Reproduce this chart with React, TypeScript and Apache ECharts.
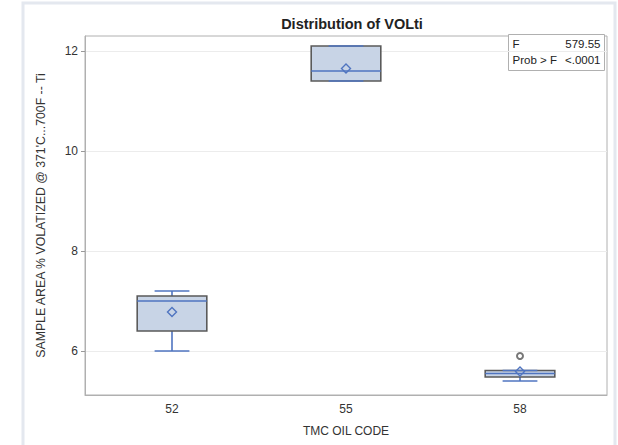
import React, { useEffect, useRef } from "react";
import * as echarts from "echarts";

const categories = ["52", "55", "58"];
const whiskerLow = [6.0, 11.4, 5.4];
const q1 = [6.4, 11.4, 5.48];
const median = [7.0, 11.6, 5.55];
const q3 = [7.1, 12.1, 5.61];
const whiskerHigh = [7.2, 12.1, 5.61];
const means = [6.78, 11.65, 5.59];
const outliers: [string, number][] = [["58", 5.9]];
const yTicks = [6, 8, 10, 12];
const statLabels = ["F", "Prob > F"];
const statValues = ["579.55", "<.0001"];

const FONT = "'Liberation Sans', Arial, sans-serif";
const BLUE = "#4f74c0";
const FILL = "#c8d4e6";
const BORDER = "#5a5a5a";

export default function App() {
  const ref = useRef<HTMLDivElement>(null);
  useEffect(() => {
    const chart = echarts.init(ref.current!, null, { renderer: "svg" });
    const boxData = categories.map((_, i) => [
      i,
      whiskerLow[i],
      q1[i],
      median[i],
      q3[i],
      whiskerHigh[i],
      means[i],
    ]);
    chart.setOption({
      animation: false,
      backgroundColor: "#ffffff",
      textStyle: { fontFamily: FONT },
      title: {
        text: "Distribution of VOLti",
        left: 347,
        textAlign: "center",
        top: 11,
        textStyle: { fontFamily: FONT, fontSize: 14.5, fontWeight: "bold", color: "#222" },
      },
      grid: { left: 85, right: 11, top: 36, bottom: 50, show: true, borderColor: "#b0b0b0", borderWidth: 1 },
      xAxis: {
        type: "category",
        data: categories,
        boundaryGap: true,
        name: "TMC OIL CODE",
        nameLocation: "middle",
        nameGap: 30,
        nameTextStyle: { fontFamily: FONT, fontSize: 12, color: "#333" },
        axisLine: { lineStyle: { color: "#b0b0b0" } },
        axisTick: { alignWithLabel: true, length: 4, lineStyle: { color: "#999" } },
        axisLabel: { fontFamily: FONT, fontSize: 12, color: "#333", margin: 8 },
      },
      yAxis: {
        type: "value",
        min: 5.12,
        max: 12.3,
        name: "SAMPLE AREA % VOLATIZED @ 371'C...700F -- Ti",
        nameLocation: "middle",
        nameGap: 38,
        nameTextStyle: { fontFamily: FONT, fontSize: 12.3, color: "#333" },
        axisLine: { show: true, lineStyle: { color: "#b0b0b0" } },
        axisTick: { show: true, length: 4, customValues: yTicks, lineStyle: { color: "#999" } },
        axisLabel: { fontFamily: FONT, fontSize: 12, color: "#333", margin: 7, customValues: yTicks },
        splitLine: { show: true, customValues: yTicks, lineStyle: { color: "#ececec" } },
      },
      graphic: [
        {
          type: "rect",
          shape: { x: 23, y: 3, width: 592, height: 460 },
          style: { fill: "none", stroke: "#e4e8ef", lineWidth: 3 },
          silent: true,
        },
        {
          type: "group",
          left: 508,
          top: 34,
          children: [
            {
              type: "rect",
              shape: { x: 0, y: 0, width: 96, height: 36 },
              style: { fill: "#fff", stroke: "#b0b0b0", lineWidth: 1 },
            },
            ...statLabels.map((t, i) => ({
              type: "text",
              x: 4,
              y: 3 + i * 16,
              style: { text: t, fontFamily: FONT, fontSize: 11.5, fill: "#222" },
            })),
            ...statValues.map((t, i) => ({
              type: "text",
              x: 92,
              y: 3 + i * 16,
              style: { text: t, fontFamily: FONT, fontSize: 11.5, fill: "#222", textAlign: "right" },
            })),
          ],
        },
      ],
      series: [
        {
          type: "custom",
          data: boxData,
          encode: { x: 0, y: [1, 2, 3, 4, 5, 6] },
          z: 3,
          renderItem: (params: any, api: any) => {
            const x = api.value(0);
            const band = api.size([1, 0])[0];
            const boxW = band * 0.4;
            const capW = band * 0.2;
            const pLow = api.coord([x, api.value(1)]);
            const pQ1 = api.coord([x, api.value(2)]);
            const pMed = api.coord([x, api.value(3)]);
            const pQ3 = api.coord([x, api.value(4)]);
            const pHigh = api.coord([x, api.value(5)]);
            const pMean = api.coord([x, api.value(6)]);
            const cx = pMed[0];
            const d = 4.5;
            const lineStyle = { stroke: BLUE, lineWidth: 1.6 };
            return {
              type: "group",
              children: [
                { type: "line", shape: { x1: cx, y1: pLow[1], x2: cx, y2: pQ1[1] }, style: lineStyle },
                { type: "line", shape: { x1: cx, y1: pQ3[1], x2: cx, y2: pHigh[1] }, style: lineStyle },
                {
                  type: "rect",
                  shape: { x: cx - boxW / 2, y: pQ3[1], width: boxW, height: pQ1[1] - pQ3[1] },
                  style: { fill: FILL, stroke: BORDER, lineWidth: 1.6 },
                },
                { type: "line", shape: { x1: cx - capW / 2, y1: pLow[1], x2: cx + capW / 2, y2: pLow[1] }, style: lineStyle },
                { type: "line", shape: { x1: cx - capW / 2, y1: pHigh[1], x2: cx + capW / 2, y2: pHigh[1] }, style: lineStyle },
                { type: "line", shape: { x1: cx - boxW / 2, y1: pMed[1], x2: cx + boxW / 2, y2: pMed[1] }, style: lineStyle },
                {
                  type: "polygon",
                  shape: {
                    points: [
                      [cx, pMean[1] - d],
                      [cx + d, pMean[1]],
                      [cx, pMean[1] + d],
                      [cx - d, pMean[1]],
                    ],
                  },
                  style: { fill: "none", stroke: BLUE, lineWidth: 1.4 },
                },
              ],
            };
          },
        },
        {
          type: "scatter",
          data: outliers,
          symbol: "emptyCircle",
          symbolSize: 6,
          itemStyle: { color: "#555", borderColor: "#555", borderWidth: 1.3 },
          z: 4,
        },
      ],
    });
    return () => chart.dispose();
  }, []);
  return (
    <div
      ref={ref}
      style={{ position: "fixed", left: 0, top: 0, width: 618, height: 445 }}
    />
  );
}
